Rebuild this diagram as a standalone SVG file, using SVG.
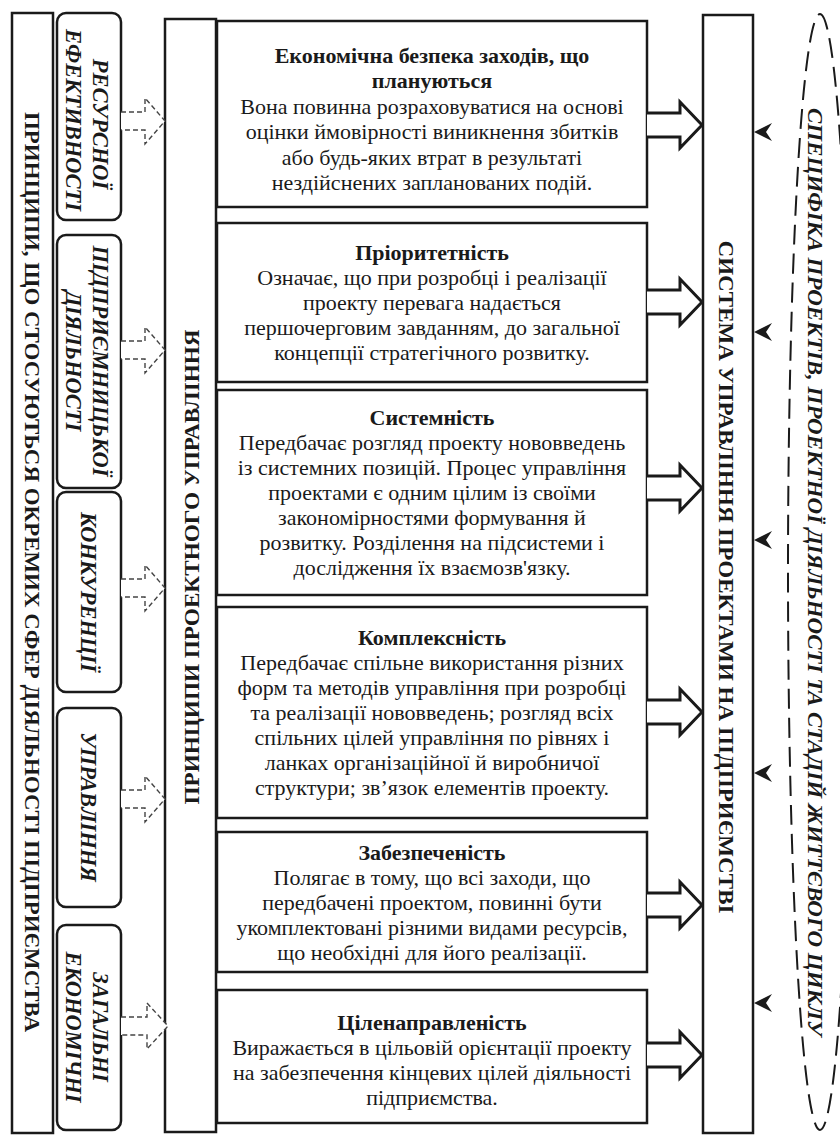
<svg xmlns="http://www.w3.org/2000/svg" width="840" height="1136" viewBox="0 0 840 1136">
<style>
.bx{fill:#fff;stroke:#1a1a1a;stroke-width:2.5}
.rb{fill:#fff;stroke:#1a1a1a;stroke-width:2.5}
.big{font-family:"Liberation Serif","Times New Roman",serif;font-weight:bold;font-size:21px;fill:#1a1a1a}
.it{font-family:"Liberation Serif","Times New Roman",serif;font-weight:bold;font-style:italic;font-size:22.5px;fill:#1a1a1a}
.t{font-family:"Liberation Serif","Times New Roman",serif;font-weight:bold;font-size:22px;fill:#1a1a1a}
.b{font-family:"Liberation Serif","Times New Roman",serif;font-size:22px;fill:#1a1a1a}
.da{fill:#fff;stroke:#444;stroke-width:1.4;stroke-dasharray:5 3}
.ha{fill:#fff;stroke:#1a1a1a;stroke-width:3;stroke-linejoin:miter}
.sh{fill:#1a1a1a}
</style>

<g id="outer-left">
<rect class="bx" x="12" y="13" width="41" height="1120"/>
<text class="big" transform="translate(32,572) rotate(90)" text-anchor="middle" dominant-baseline="central" textLength="920" lengthAdjust="spacingAndGlyphs">ПРИНЦИПИ, ЩО СТОСУЮТЬСЯ ОКРЕМИХ СФЕР ДІЯЛЬНОСТІ ПІДПРИЄМСТВА</text>
</g>

<g id="sphere-1">
<rect class="rb" x="57" y="13" width="64" height="207" rx="9"/>
<text class="it" transform="translate(100,124) rotate(90)" text-anchor="middle" dominant-baseline="central">РЕСУРСНОЇ</text>
<text class="it" transform="translate(73,120) rotate(90)" text-anchor="middle" dominant-baseline="central">ЕФЕКТИВНОСТІ</text>
</g>
<g id="sphere-2">
<rect class="rb" x="57" y="235" width="64" height="253" rx="9"/>
<text class="it" transform="translate(100,361) rotate(90)" text-anchor="middle" dominant-baseline="central">ПІДПРИЄМНИЦЬКОЇ</text>
<text class="it" transform="translate(73,361) rotate(90)" text-anchor="middle" dominant-baseline="central">ДІЯЛЬНОСТІ</text>
</g>
<g id="sphere-3">
<rect class="rb" x="57" y="492" width="64" height="200" rx="9"/>
<text class="it" transform="translate(88,592) rotate(90)" text-anchor="middle" dominant-baseline="central">КОНКУРЕНЦІЇ</text>
</g>
<g id="sphere-4">
<rect class="rb" x="57" y="708" width="64" height="199" rx="9"/>
<text class="it" transform="translate(88,807) rotate(90)" text-anchor="middle" dominant-baseline="central">УПРАВЛІННЯ</text>
</g>
<g id="sphere-5">
<rect class="rb" x="57" y="925" width="64" height="205" rx="9"/>
<text class="it" transform="translate(100,1027) rotate(90)" text-anchor="middle" dominant-baseline="central">ЗАГАЛЬНІ</text>
<text class="it" transform="translate(73,1027) rotate(90)" text-anchor="middle" dominant-baseline="central">ЕКОНОМІЧНІ</text>
</g>

<g id="principles-column">
<rect class="bx" x="165" y="19" width="51" height="1113"/>
<text class="big" transform="translate(192,567) rotate(-90)" text-anchor="middle" dominant-baseline="central" textLength="475" lengthAdjust="spacingAndGlyphs">ПРИНЦИПИ ПРОЕКТНОГО УПРАВЛІННЯ</text>
</g>

<g id="box-1">
<rect class="bx" x="217" y="21" width="430" height="186"/>
<text class="t" x="432" y="55" text-anchor="middle" dominant-baseline="central">Економічна безпека заходів, що</text>
<text class="t" x="432" y="80" text-anchor="middle" dominant-baseline="central">плануються</text>
<text class="b" x="432" y="106" text-anchor="middle" dominant-baseline="central">Вона повинна розраховуватися на основі</text>
<text class="b" x="432" y="131" text-anchor="middle" dominant-baseline="central">оцінки ймовірності виникнення збитків</text>
<text class="b" x="432" y="157" text-anchor="middle" dominant-baseline="central">або будь-яких втрат в результаті</text>
<text class="b" x="432" y="182" text-anchor="middle" dominant-baseline="central">нездійснених запланованих подій.</text>
</g>
<g id="box-2">
<rect class="bx" x="217" y="223" width="430" height="159"/>
<text class="t" x="432" y="252" text-anchor="middle" dominant-baseline="central">Пріоритетність</text>
<text class="b" x="432" y="277" text-anchor="middle" dominant-baseline="central">Означає, що при розробці і реалізації</text>
<text class="b" x="432" y="302" text-anchor="middle" dominant-baseline="central">проекту перевага надається</text>
<text class="b" x="432" y="327" text-anchor="middle" dominant-baseline="central">першочерговим завданням, до загальної</text>
<text class="b" x="432" y="352" text-anchor="middle" dominant-baseline="central">концепції стратегічного розвитку.</text>
</g>
<g id="box-3">
<rect class="bx" x="217" y="390" width="430" height="205"/>
<text class="t" x="432" y="417" text-anchor="middle" dominant-baseline="central">Системність</text>
<text class="b" x="432" y="442" text-anchor="middle" dominant-baseline="central">Передбачає розгляд проекту нововведень</text>
<text class="b" x="432" y="467" text-anchor="middle" dominant-baseline="central">із системних позицій. Процес управління</text>
<text class="b" x="432" y="492" text-anchor="middle" dominant-baseline="central">проектами є одним цілим із своїми</text>
<text class="b" x="432" y="517" text-anchor="middle" dominant-baseline="central">закономірностями формування й</text>
<text class="b" x="432" y="542" text-anchor="middle" dominant-baseline="central">розвитку. Розділення на підсистеми і</text>
<text class="b" x="432" y="567" text-anchor="middle" dominant-baseline="central">дослідження їх взаємозв'язку.</text>
</g>
<g id="box-4">
<rect class="bx" x="217" y="607" width="430" height="211"/>
<text class="t" x="432" y="637" text-anchor="middle" dominant-baseline="central">Комплексність</text>
<text class="b" x="432" y="662" text-anchor="middle" dominant-baseline="central">Передбачає спільне використання різних</text>
<text class="b" x="432" y="687" text-anchor="middle" dominant-baseline="central">форм та методів управління при розробці</text>
<text class="b" x="432" y="712" text-anchor="middle" dominant-baseline="central">та реалізації нововведень; розгляд всіх</text>
<text class="b" x="432" y="737" text-anchor="middle" dominant-baseline="central">спільних цілей управління по рівнях і</text>
<text class="b" x="432" y="762" text-anchor="middle" dominant-baseline="central">ланках організаційної й виробничої</text>
<text class="b" x="432" y="787" text-anchor="middle" dominant-baseline="central">структури; зв’язок елементів проекту.</text>
</g>
<g id="box-5">
<rect class="bx" x="217" y="832" width="430" height="140"/>
<text class="t" x="432" y="852" text-anchor="middle" dominant-baseline="central">Забезпеченість</text>
<text class="b" x="432" y="877" text-anchor="middle" dominant-baseline="central">Полягає в тому, що всі заходи, що</text>
<text class="b" x="432" y="902" text-anchor="middle" dominant-baseline="central">передбачені проектом, повинні бути</text>
<text class="b" x="432" y="927" text-anchor="middle" dominant-baseline="central">укомплектовані різними видами ресурсів,</text>
<text class="b" x="432" y="952" text-anchor="middle" dominant-baseline="central">що необхідні для його реалізації.</text>
</g>
<g id="box-6">
<rect class="bx" x="217" y="990" width="430" height="133"/>
<text class="t" x="432" y="1022" text-anchor="middle" dominant-baseline="central">Ціленаправленість</text>
<text class="b" x="432" y="1047" text-anchor="middle" dominant-baseline="central">Виражається в цільовій орієнтації проекту</text>
<text class="b" x="432" y="1072" text-anchor="middle" dominant-baseline="central">на забезпечення кінцевих цілей діяльності</text>
<text class="b" x="432" y="1097" text-anchor="middle" dominant-baseline="central">підприємства.</text>
</g>

<g id="system-column">
<rect class="bx" x="703" y="15" width="50" height="1118"/>
<text class="big" transform="translate(726,577) rotate(90)" text-anchor="middle" dominant-baseline="central" textLength="673" lengthAdjust="spacingAndGlyphs">СИСТЕМА УПРАВЛІННЯ ПРОЕКТАМИ НА ПІДПРИЄМСТВІ</text>
</g>

<g id="lifecycle-ellipse">
<ellipse cx="820" cy="572" rx="32" ry="558" fill="none" stroke="#1a1a1a" stroke-width="2" stroke-dasharray="20 9"/>
<text class="it" transform="translate(815,572) rotate(90)" text-anchor="middle" dominant-baseline="central" textLength="928" lengthAdjust="spacingAndGlyphs" style="font-size:21px">СПЕЦИФІКА ПРОЕКТІВ, ПРОЕКТНОЇ ДІЯЛЬНОСТІ ТА СТАДІЙ ЖИТТЄВОГО ЦИКЛУ</text>
</g>

<g id="connectors">
<path class="da" d="M121,112 H145 V98 L165,121 L145,144 V130 H121"/>
<path class="da" d="M121,341 H145 V327 L165,350 L145,373 V359 H121"/>
<path class="da" d="M121,579 H145 V565 L165,588 L145,611 V597 H121"/>
<path class="da" d="M121,790 H145 V776 L165,799 L145,822 V808 H121"/>
<path class="da" d="M121,1017 H147 V1003 L168,1026 L147,1049 V1035 H121"/>

<path class="ha" d="M647,113 H680 V102 L702,125 L680,148 V137 H647"/>
<path class="ha" d="M647,290 H680 V279 L702,302 L680,325 V314 H647"/>
<path class="ha" d="M647,476 H680 V465 L702,488 L680,511 V500 H647"/>
<path class="ha" d="M647,700 H680 V689 L702,712 L680,735 V724 H647"/>
<path class="ha" d="M647,893 H680 V882 L702,905 L680,928 V917 H647"/>
<path class="ha" d="M647,1043 H680 V1032 L702,1055 L680,1078 V1067 H647"/>

<path class="sh" d="M754,132 L772,123 L766,132 L772,141 Z"/>
<path class="sh" d="M754,332 L772,323 L766,332 L772,341 Z"/>
<path class="sh" d="M754,540 L772,531 L766,540 L772,549 Z"/>
<path class="sh" d="M754,773 L772,764 L766,773 L772,782 Z"/>
<path class="sh" d="M754,1003 L772,994 L766,1003 L772,1012 Z"/>
</g>
</svg>
